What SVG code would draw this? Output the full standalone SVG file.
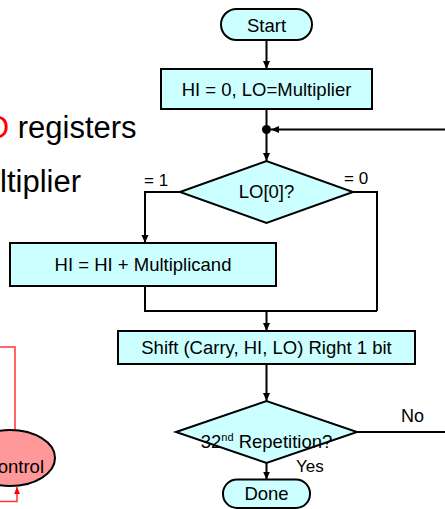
<svg xmlns="http://www.w3.org/2000/svg" width="445" height="509" viewBox="0 0 445 509">
<defs>
<style>
.node{fill:#CCFFFF;stroke:#000;stroke-width:2}
.t{font-family:"Liberation Sans",Arial,sans-serif;font-size:18.5px;fill:#000;text-anchor:middle}
.lbl{font-family:"Liberation Sans",Arial,sans-serif;font-size:17px;fill:#000}
.big{font-family:"Liberation Sans",Arial,sans-serif;font-size:31px;fill:#000}
.c{fill:none;stroke:#000;stroke-width:2}
.r{fill:none;stroke:#FF3333;stroke-width:1.5}
</style>
<marker id="ah" markerUnits="userSpaceOnUse" markerWidth="8" markerHeight="8" refX="8" refY="4" orient="auto"><path d="M0,0.5 L8,4 L0,7.5 Z" fill="#000"/></marker>
<marker id="rh" markerUnits="userSpaceOnUse" markerWidth="7" markerHeight="7" refX="7" refY="3.5" orient="auto"><path d="M0,0.5 L7,3.5 L0,6.5 Z" fill="#FF0000"/></marker>
</defs>
<rect width="445" height="509" fill="#fff"/>

<g id="note">
<text class="big" x="-15" y="138"><tspan fill="#FF0000">O</tspan> registers</text>
<text class="big" x="0" y="192">ltiplier</text>
</g>

<g id="connectors">
<path class="c" d="M266.5,40 V69" marker-end="url(#ah)"/>
<path class="c" d="M266.5,109 V129.5"/>
<path class="c" d="M266.5,129.5 V161" marker-end="url(#ah)"/>
<path class="c" d="M445,129.5 H271" marker-end="url(#ah)"/>
<circle cx="266.5" cy="129.5" r="4.5" fill="#000"/>
<path class="c" d="M180,192 H145 V243" marker-end="url(#ah)"/>
<path class="c" d="M353,192 H377 V311"/>
<path class="c" d="M145,286 V311 H377"/>
<path class="c" d="M266.5,311 V331" marker-end="url(#ah)"/>
<path class="c" d="M266.5,364 V401" marker-end="url(#ah)"/>
<path class="c" d="M357,432 H445"/>
<path class="c" d="M266.5,463 V479.5" marker-end="url(#ah)"/>
<text class="lbl" x="144" y="186">= 1</text>
<text class="lbl" x="344" y="184">= 0</text>
<text class="lbl" x="401" y="422" style="font-size:18px">No</text>
<text class="lbl" x="296" y="472">Yes</text>
<path class="r" d="M0,347 H15 V430"/>
<path class="r" d="M0,501.5 H17 V487" marker-end="url(#rh)"/>
</g>

<g id="start">
<rect class="node" x="221" y="9" width="91" height="31" rx="15.5"/>
<text class="t" x="266.5" y="31.5">Start</text>
</g>

<g id="init">
<rect class="node" x="161" y="69" width="211" height="40"/>
<text class="t" x="266.5" y="95.5">HI = 0, LO=Multiplier</text>
</g>

<g id="test">
<polygon class="node" points="180,192 266.5,161 353,192 266.5,223"/>
<text class="t" x="266.5" y="198">LO[0]?</text>
</g>

<g id="add">
<rect class="node" x="10" y="243" width="266" height="43"/>
<text class="t" x="143" y="271">HI = HI + Multiplicand</text>
</g>

<g id="shift">
<rect class="node" x="118" y="331" width="297" height="33"/>
<text class="t" x="266.5" y="354">Shift (Carry, HI, LO) Right 1 bit</text>
</g>

<g id="repeat">
<polygon class="node" points="176,432 266.5,401 357,432 266.5,463"/>
<text class="t" x="266.5" y="448">32<tspan font-size="11" dy="-7">nd</tspan><tspan dy="7"> Repetition?</tspan></text>
</g>

<g id="done">
<rect class="node" x="223" y="479.5" width="87" height="28.5" rx="14"/>
<text class="t" x="266.5" y="500">Done</text>
</g>

<g id="control">
<ellipse cx="10" cy="458" rx="45" ry="28" fill="#FF9999" stroke="#000" stroke-width="2"/>
<text class="t" x="44" y="473" style="text-anchor:end">ontrol</text>
</g>
</svg>
